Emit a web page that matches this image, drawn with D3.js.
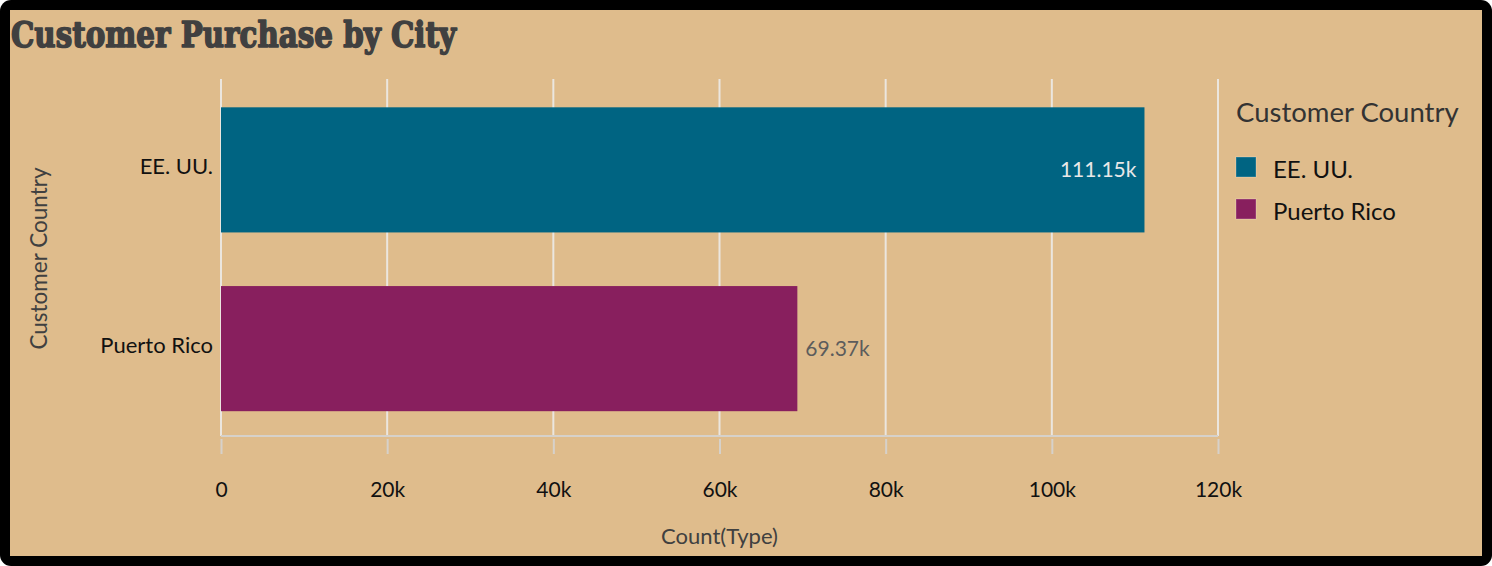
<!DOCTYPE html>
<html>
<head>
<meta charset="utf-8">
<script src="https://cdn.jsdelivr.net/npm/d3@7"></script>
<style>
  body { margin: 0; background: #ffffff; }
  svg { display: block; }
  text { font-family: Lato, "Noto Sans", sans-serif; }
</style>
</head>
<body>
<svg id="chart" width="1492" height="566"></svg>
<script>
// data
var countries = ["EE. UU.", "Puerto Rico"];
var counts = [111150, 69370];
var barColors = ["#006482", "#881f5e"];
var xTicks = [0, 20000, 40000, 60000, 80000, 100000, 120000];
var chartTitle = "Customer Purchase by City";
var xTitle = "Count(Type)";
var yTitle = "Customer Country";

window.onload = function () {
    draw();
};

function draw() {
    var svg = d3.select("#chart");
    var W = 1492, H = 566;

    // frame
    svg.append("rect")
        .attr("x", 0).attr("y", 0)
        .attr("width", W).attr("height", H)
        .attr("rx", 11).attr("ry", 11)
        .attr("fill", "#000");
    svg.append("rect")
        .attr("x", 10).attr("y", 10)
        .attr("width", 1472).attr("height", 546)
        .attr("fill", "#dfbc8c");

    // title (heavy display serif faked with a stroke)
    svg.append("text")
        .attr("x", 11)
        .attr("y", 47)
        .attr("textLength", 445)
        .attr("lengthAdjust", "spacingAndGlyphs")
        .style("font-family", "'DejaVu Serif', serif")
        .style("font-weight", "bold")
        .style("font-size", "35px")
        .attr("fill", "#404040")
        .attr("stroke", "#404040")
        .attr("stroke-width", 1.6)
        .attr("stroke-linejoin", "round")
        .text(chartTitle);

    var plot = {left: 221, right: 1218, top: 79, bottom: 436};

    var x = d3.scaleLinear()
        .domain([0, 120000])
        .range([plot.left, plot.right]);

    var y = d3.scaleBand()
        .domain(countries)
        .range([80.5, 438])
        .paddingInner(0.3)
        .paddingOuter(0.15);

    var color = d3.scaleOrdinal()
        .domain(countries)
        .range(barColors);

    // grid lines
    svg.append("g")
        .selectAll("line")
        .data(xTicks)
        .join("line")
        .attr("x1", d => x(d)).attr("x2", d => x(d))
        .attr("y1", plot.top).attr("y2", plot.bottom)
        .attr("stroke", "#ebe6df")
        .attr("stroke-width", 2);

    // x axis
    var xAxis = d3.axisBottom(x)
        .tickValues(xTicks)
        .tickSize(18)
        .tickPadding(28)
        .tickFormat(d => d === 0 ? "0" : (d / 1000) + "k");

    var gx = svg.append("g")
        .attr("transform", `translate(0,${plot.bottom})`)
        .call(xAxis);
    gx.select(".domain")
        .attr("stroke", "#d6d1ca")
        .attr("stroke-width", 2)
        .attr("d", `M${plot.left},0H${plot.right}`);
    gx.selectAll(".tick line")
        .attr("stroke", "#d6d1ca")
        .attr("stroke-width", 2)
        .attr("y1", 3);
    gx.selectAll(".tick text")
        .style("font-family", "Lato, sans-serif")
        .style("font-size", "21px")
        .attr("fill", "#111");

    // bars
    svg.append("g")
        .selectAll("rect")
        .data(countries)
        .join("rect")
        .attr("x", x(0))
        .attr("y", d => y(d))
        .attr("width", (d, i) => x(counts[i]) - x(0))
        .attr("height", y.bandwidth())
        .attr("fill", d => color(d));

    // category labels
    svg.append("g")
        .selectAll("text")
        .data(countries)
        .join("text")
        .attr("x", 213)
        .attr("y", d => y(d) + y.bandwidth() / 2 + 4.5)
        .attr("text-anchor", "end")
        .style("font-size", "22px")
        .attr("fill", "#111")
        .text(d => d);

    // value labels
    var fmt = v => d3.format(".2f")(v / 1000) + "k";
    svg.append("g")
        .selectAll("text")
        .data(countries)
        .join("text")
        .attr("x", (d, i) => i === 0 ? x(counts[i]) - 8 : x(counts[i]) + 8)
        .attr("y", d => y(d) + y.bandwidth() / 2 + 7.6)
        .attr("text-anchor", (d, i) => i === 0 ? "end" : "start")
        .style("font-size", "21px")
        .attr("fill", (d, i) => i === 0 ? "#e8e8e8" : "#5c5c5c")
        .text((d, i) => fmt(counts[i]));

    // axis titles
    svg.append("text")
        .attr("x", (plot.left + plot.right) / 2)
        .attr("y", 544)
        .attr("text-anchor", "middle")
        .style("font-size", "22px")
        .attr("fill", "#404040")
        .text(xTitle);

    svg.append("text")
        .attr("transform", "translate(47,258.5) rotate(-90)")
        .attr("text-anchor", "middle")
        .style("font-size", "22.5px")
        .attr("fill", "#404040")
        .text(yTitle);

    // legend
    var legend = svg.append("g").attr("transform", "translate(1236,0)");
    legend.append("text")
        .attr("x", 0).attr("y", 121.5)
        .style("font-size", "27.5px")
        .attr("fill", "#333")
        .text(yTitle);

    var items = legend.selectAll("g.item")
        .data(countries)
        .join("g")
        .attr("class", "item")
        .attr("transform", (d, i) => `translate(0,${157 + i * 42})`);
    items.append("rect")
        .attr("width", 20).attr("height", 20)
        .attr("fill", d => color(d))
        .attr("stroke", "#ffffff")
        .attr("stroke-opacity", 0.25);
    items.append("text")
        .attr("x", 37).attr("y", 20.5)
        .style("font-size", "24px")
        .attr("fill", "#111")
        .text(d => d);
}
</script>
</body>
</html>
